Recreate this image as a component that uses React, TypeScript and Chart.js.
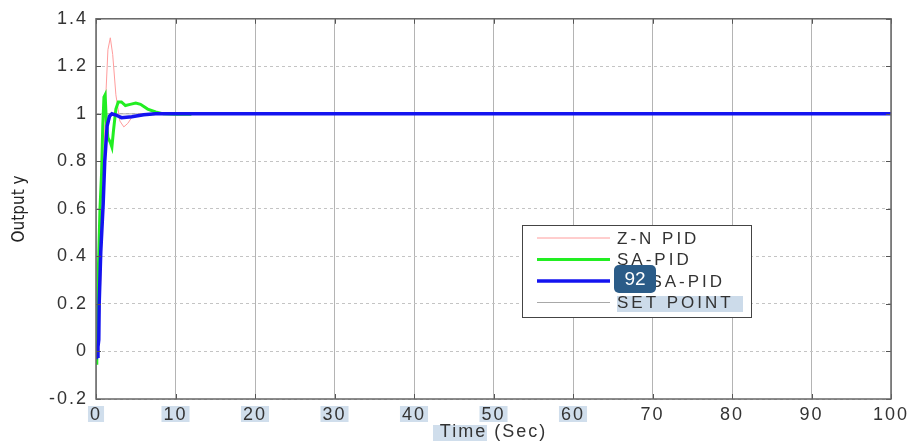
import React, { useEffect, useRef } from "react";
import { Chart, registerables } from "chart.js";

Chart.register(...registerables);

// Step responses of the three controllers (time in seconds, output y)
const znTime = [0, 0.3, 0.6, 0.9, 1.2, 1.5, 1.8, 2.1, 2.5, 3.0, 3.5, 4.0, 4.5, 5.5, 6.5, 8, 100];
const znOutput = [0, 0.02, 0.3, 0.7, 1.05, 1.27, 1.32, 1.25, 1.08, 0.97, 0.945, 0.96, 0.985, 1.0, 0.997, 1.0, 1.0];

const saTime = [0, 0.1, 0.2, 0.3, 0.5, 0.7, 0.85, 1.0, 1.15, 1.3, 1.5, 1.8, 2.0, 2.2, 2.5, 2.8, 3.2, 3.7, 4.3, 5.0, 5.6, 6.5, 7.5, 8.5, 10, 12];
const saOutput = [-0.05, -0.04, 0.05, 0.35, 0.6, 0.75, 0.95, 1.07, 1.08, 0.97, 0.9, 0.88, 0.86, 0.93, 1.02, 1.05, 1.05, 1.035, 1.04, 1.045, 1.04, 1.02, 1.008, 1.0, 0.998, 0.998];

const mosaTime = [0, 0.15, 0.25, 0.35, 0.4, 0.6, 0.9, 1.1, 1.4, 1.7, 2.0, 2.5, 3.2, 4.5, 6, 7.5, 100];
const mosaOutput = [-0.03, -0.02, 0.02, 0.05, 0.2, 0.42, 0.62, 0.8, 0.95, 0.99, 1.0, 0.995, 0.984, 0.988, 0.996, 1.0, 1.0];

const setPointTime = [0, 100];
const setPointValue = [1, 1];

const seriesNames = ["Z-N PID", "SA-PID", "MOSA-PID", "SET POINT"];
const seriesColors = ["#ff9c9c", "#22ee22", "#1414f0", "#a8a8a8"];
const seriesWidths = [1, 3, 3.5, 1];

const highlightedTicks = [0, 10, 20, 30, 40, 50, 60];

const yAxisTitle = "Output y";

const FONT = "'Liberation Sans', Arial, sans-serif";
const NARROW_FONT = "'Liberation Sans Narrow', 'DejaVu Sans Condensed', 'Liberation Sans', Arial, sans-serif";

const pairs = (xs: number[], ys: number[]) => xs.map((x, i) => ({ x, y: ys[i] }));

// Frame with inward tick marks, MATLAB style
const framePlugin = {
  id: "frame",
  beforeDraw(chart: any) {
    const { ctx, scales } = chart;
    const x = scales.x;
    ctx.save();
    ctx.font = `18px ${FONT}`;
    ctx.fillStyle = "rgba(170,195,220,0.55)";
    for (const v of highlightedTicks) {
      const label = String(v);
      const w = ctx.measureText(label).width + label.length * 2 + 4;
      const px = x.getPixelForValue(v);
      ctx.fillRect(px - w / 2, 406, w, 16);
    }
    // highlight over the first word of the time axis title
    ctx.fillRect(433, 425, 54, 16);
    ctx.restore();
    ctx.letterSpacing = "2px";
  },
  afterDatasetsDraw(chart: any) {
    const { ctx, chartArea: a, scales } = chart;
    ctx.save();
    ctx.letterSpacing = "0px";
    ctx.strokeStyle = "#555";
    ctx.lineWidth = 1;
    ctx.beginPath();
    for (let v = 0; v <= 100; v += 10) {
      const px = Math.round(scales.x.getPixelForValue(v)) + 0.5;
      ctx.moveTo(px, a.bottom);
      ctx.lineTo(px, a.bottom - 5);
      ctx.moveTo(px, a.top);
      ctx.lineTo(px, a.top + 5);
    }
    for (let i = 0; i <= 8; i++) {
      const v = -0.2 + i * 0.2;
      const py = Math.round(scales.y.getPixelForValue(v)) + 0.5;
      ctx.moveTo(a.left, py);
      ctx.lineTo(a.left + 5, py);
      ctx.moveTo(a.right, py);
      ctx.lineTo(a.right - 5, py);
    }
    ctx.stroke();
    ctx.strokeStyle = "#666";
    ctx.lineWidth = 1.5;
    ctx.strokeRect(a.left, a.top, a.right - a.left, a.bottom - a.top);

    // vertical axis title in a condensed face
    ctx.translate(20, (a.top + a.bottom) / 2);
    ctx.rotate(-Math.PI / 2);
    ctx.font = `17px ${NARROW_FONT}`;
    ctx.fillStyle = "#222";
    ctx.textAlign = "center";
    ctx.textBaseline = "middle";
    ctx.fillText(yAxisTitle, 0, 0);
    ctx.restore();
  },
};

// Boxed legend inside the plot
const legendPlugin = {
  id: "boxLegend",
  afterDraw(chart: any) {
    const { ctx } = chart;
    const bx = 522, by = 225, bw = 229, bh = 92;
    ctx.save();
    ctx.fillStyle = "#fff";
    ctx.fillRect(bx, by, bw, bh);
    ctx.strokeStyle = "#444";
    ctx.lineWidth = 1;
    ctx.strokeRect(bx + 0.5, by + 0.5, bw, bh);
    ctx.fillStyle = "rgba(170,195,220,0.6)";
    ctx.fillRect(617, 296, 126, 16);
    ctx.font = `17px ${FONT}`;
    ctx.letterSpacing = "3px";
    ctx.textBaseline = "middle";
    seriesNames.forEach((name, i) => {
      const y = by + 13 + i * 21.5;
      ctx.strokeStyle = seriesColors[i];
      ctx.lineWidth = seriesWidths[i];
      ctx.beginPath();
      ctx.moveTo(537, y);
      ctx.lineTo(610, y);
      ctx.stroke();
      ctx.fillStyle = "#333";
      ctx.fillText(name, 617, y + 1);
    });
    // count badge
    ctx.letterSpacing = "0px";
    ctx.fillStyle = "#2b5c88";
    ctx.beginPath();
    ctx.roundRect(614, 265, 42, 28, 5);
    ctx.fill();
    ctx.fillStyle = "#fff";
    ctx.font = `19px ${FONT}`;
    ctx.textAlign = "center";
    ctx.fillText("92", 635, 280);
    ctx.restore();
  },
};

export default function App() {
  const canvasRef = useRef<HTMLCanvasElement>(null);

  useEffect(() => {
    document.body.style.margin = "0";
    const canvas = canvasRef.current;
    if (!canvas) return;
    const datasets = [
      { data: pairs(mosaTime, mosaOutput), idx: 2, order: 0 },
      { data: pairs(saTime, saOutput), idx: 1, order: 1 },
      { data: pairs(znTime, znOutput), idx: 0, order: 2 },
      { data: pairs(setPointTime, setPointValue), idx: 3, order: 3 },
    ].map((d) => ({
      label: seriesNames[d.idx],
      data: d.data,
      order: d.order,
      borderColor: seriesColors[d.idx],
      borderWidth: seriesWidths[d.idx],
      pointRadius: 0,
      tension: 0,
      fill: false,
    }));

    const chart = new Chart(canvas, {
      type: "line",
      data: { datasets },
      options: {
        animation: false,
        responsive: false,
        maintainAspectRatio: false,
        layout: { padding: { top: 15, right: 25, left: 0, bottom: 0 } },
        plugins: { legend: { display: false }, tooltip: { enabled: false } },
        scales: {
          x: {
            type: "linear",
            min: 0,
            max: 100,
            ticks: { stepSize: 10, color: "#333", font: { family: FONT, size: 18 }, padding: 5, maxRotation: 0 },
            grid: { color: "#b4b4b4", lineWidth: 1, drawTicks: false },
            border: { display: false },
            title: {
              display: true,
              text: "Time (Sec)",
              color: "#333",
              font: { family: FONT, size: 18 },
              padding: { top: 0, bottom: 3 },
            },
            afterFit: (s: any) => {
              s.height = 47;
            },
          },
          y: {
            type: "linear",
            min: -0.2,
            max: 1.4,
            ticks: {
              stepSize: 0.2,
              color: "#333",
              font: { family: FONT, size: 18 },
              padding: 8,
              callback: (v: any) => String(Math.round(Number(v) * 10) / 10),
            },
            grid: { color: "#c4c4c4", lineWidth: 1, drawTicks: false },
            border: { display: false, dash: [3, 3] },
            afterFit: (s: any) => {
              s.width = 96;
            },
          },
        },
      },
      plugins: [framePlugin, legendPlugin],
    });
    return () => chart.destroy();
  }, []);

  return (
    <div style={{ width: 916, height: 446, background: "#fff" }}>
      <canvas ref={canvasRef} width={916} height={446} style={{ display: "block" }} />
    </div>
  );
}
